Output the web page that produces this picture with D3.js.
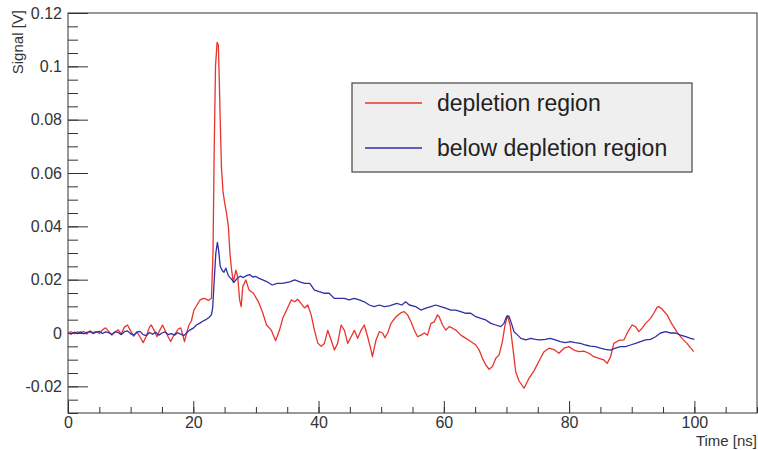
<!DOCTYPE html>
<html>
<head>
<meta charset="utf-8">
<script src="https://cdn.jsdelivr.net/npm/d3@7"></script>
<style>
  body { margin: 0; background: #fff; }
  svg { display: block; font-family: "Liberation Sans", Arial, sans-serif; }
</style>
</head>
<body>
<script>
// depletion region (red) - time [ns] and signal [V]
var redTime = [0,0.5,1,1.5,2,2.5,3,3.5,4,4.5,5,5.5,6,6.5,7,7.5,8,8.5,9,9.5,10,10.5,11,11.5,12,12.5,13,13.3,13.8,14.2,14.6,15.1,15.6,16,16.4,16.8,17.2,17.6,18,18.3,18.6,19,19.3,19.7,20.1,20.6,21.1,21.6,22,22.4,22.9,23.15,23.35,23.55,23.8,24,24.15,24.3,24.5,24.75,25,25.3,25.6,25.85,26.1,26.4,26.8,27.1,27.4,27.65,27.9,28.4,28.9,29.6,30.4,31.1,31.7,32.45,33.14,33.77,34.3,35.05,35.64,36.16,36.69,37.23,37.76,38.28,38.82,39.35,39.88,40.42,40.94,41.47,42.01,42.54,43.06,43.6,44.13,44.65,45.2,45.72,46.25,46.79,47.3,47.84,48.38,48.6,49.18,49.7,50.23,50.6,51.03,51.57,52.37,53.16,53.69,54.21,54.76,55.28,55.81,56.35,56.87,57.4,57.94,58.47,58.99,59.26,59.79,60.33,60.86,61.38,61.93,62.72,63.52,64.31,65.11,65.64,66.16,66.7,67.23,67.76,68.3,68.82,69.35,69.73,70.15,70.58,70.94,71.48,72.01,72.81,73.6,74.4,75.2,76,76.79,77.58,78.38,79.18,79.97,80.77,81.57,82.36,83.16,83.96,84.75,85.55,86.08,86.62,87.14,87.94,88.74,89.53,90.06,90.6,91.13,91.65,92.19,92.99,93.52,94.04,94.31,94.84,95.64,96.43,97.23,98.03,98.82,99.36,99.9];
var redSignal = [0,0.0005,-0.0003,0.0004,0,0.0006,-0.0004,0.0008,0.0002,0.0005,-0.0002,0.0012,0.0019,0.0006,-0.0008,0.0004,0.0012,-0.0004,0.0022,0.003,0.0008,-0.0012,0.0004,-0.0015,-0.0036,-0.0012,0.0022,0.003,0.0008,-0.0014,0.0008,0.003,0.0005,-0.0015,-0.0032,-0.0012,0,0.0015,0.0019,-0.0005,-0.0032,0.0005,0.003,0.0045,0.0086,0.0105,0.0124,0.013,0.0128,0.0122,0.013,0.03,0.07,0.1,0.109,0.108,0.095,0.08,0.062,0.053,0.049,0.045,0.04,0.03,0.024,0.019,0.0236,0.021,0.0124,0.0099,0.0174,0.0199,0.0161,0.0149,0.0117,0.0075,0.003,0.0011,-0.0029,0.0011,0.0056,0.0094,0.0124,0.0117,0.0126,0.011,0.0094,0.0105,0.0068,0.001,-0.0038,-0.005,-0.0039,0.001,-0.0026,-0.0064,-0.0038,0.003,0.001,-0.0039,-0.0014,0.001,-0.002,0.001,0.003,-0.0014,-0.0064,-0.0089,-0.0026,0.0005,0,-0.0018,0,0.0036,0.0061,0.0076,0.008,0.0068,0.0042,0.0011,-0.0014,-0.0008,0,-0.0008,0.0036,0.0042,0.0068,0.0061,0.003,0.0011,0.0024,0.0018,0.0011,-0.0008,-0.002,-0.0032,-0.0045,-0.0064,-0.0095,-0.012,-0.0136,-0.0126,-0.0095,-0.0083,-0.0032,0.0024,0.0066,0.003,-0.004,-0.0145,-0.018,-0.0207,-0.017,-0.0142,-0.0105,-0.007,-0.0057,-0.0062,-0.0076,-0.0057,-0.0051,-0.0064,-0.007,-0.0068,-0.0076,-0.0089,-0.0095,-0.0101,-0.0114,-0.0089,-0.0039,-0.0028,-0.0026,0.0011,0.003,0.0024,0.0005,0.0018,0.0035,0.0055,0.0074,0.0096,0.0099,0.009,0.0068,0.0033,0.0003,-0.002,-0.0039,-0.0055,-0.007];

// below depletion region (blue)
var blueTime = [0,0.5,1,1.5,2,2.5,3,3.5,4,4.5,5,5.5,6,6.5,7,7.5,8,8.5,9,9.5,10,10.5,11,11.5,12,12.5,13,13.5,14,14.5,15,15.5,16,16.5,17,17.5,18,18.5,19,19.5,20,20.5,21,21.5,22,22.5,22.9,23.1,23.35,23.6,23.85,24.05,24.3,24.6,24.9,25.2,25.6,26,26.5,27,27.5,28,28.5,29,29.5,30,30.5,31.1,31.8,32.6,33.4,34.2,35.4,36.2,37,37.8,38.6,39.35,40.1,40.95,41.7,42.5,43.3,44.1,44.9,45.7,46.5,47.3,48.1,48.9,49.7,50.5,51.3,52.5,53.3,53.9,54.5,55.5,56.35,57.15,57.94,58.7,59.5,60.3,61.1,61.9,62.7,63.5,64.3,65.1,65.9,66.7,67.5,68.3,69.1,69.6,70,70.4,70.8,71.2,71.8,72.3,73.1,73.9,74.6,75.4,76.2,77,77.8,78.6,79.4,80.2,81,81.8,82.6,83.4,84.2,85,85.8,86.6,87.4,88.2,89,89.8,90.6,91.4,92.2,93,93.8,94.6,95.4,96.2,97,97.8,98.6,99.4,100];
var blueSignal = [0,-0.0004,0.0003,-0.0002,0.0004,-0.0003,0.0002,0.0005,-0.0002,0.0003,0.0006,-0.0002,0.0004,0.0001,-0.0005,0.0004,0.0002,-0.0006,0.0005,0.0008,-0.0003,-0.0008,0.0003,0.0006,-0.0006,-0.001,0.0002,-0.0004,0.0003,-0.0008,0,0.0004,-0.0006,-0.0002,-0.0008,0.0001,-0.0004,-0.001,0.0002,0.0012,0.0018,0.003,0.0036,0.0044,0.005,0.0058,0.0068,0.0095,0.02,0.03,0.034,0.031,0.025,0.0235,0.0228,0.0243,0.0215,0.0205,0.019,0.0205,0.0213,0.0208,0.0215,0.0219,0.021,0.0212,0.0205,0.0199,0.0192,0.018,0.0186,0.0186,0.0192,0.0199,0.0192,0.0186,0.0186,0.0161,0.0155,0.0149,0.0149,0.013,0.013,0.013,0.0124,0.013,0.0124,0.0117,0.0105,0.0099,0.0105,0.0099,0.0102,0.0111,0.0105,0.0117,0.0105,0.0099,0.0086,0.0093,0.0099,0.0105,0.0099,0.0093,0.0086,0.0086,0.008,0.0074,0.0074,0.0061,0.0055,0.0049,0.0036,0.003,0.0024,0.0036,0.0061,0.0063,0.0036,0.0005,-0.0008,-0.002,-0.0026,-0.002,-0.0024,-0.0026,-0.0024,-0.002,-0.0026,-0.0032,-0.0036,-0.0032,-0.0036,-0.0039,-0.0045,-0.0049,-0.0051,-0.0057,-0.0061,-0.0064,-0.0057,-0.0051,-0.0051,-0.0045,-0.0039,-0.0032,-0.0026,-0.0024,-0.0014,0,0.0005,0,0,-0.0008,-0.0014,-0.002,-0.0024];

var seriesNames = ["depletion region", "below depletion region"];
var seriesColors = ["#e8342c", "#2f2fa6"];

var xMajorTicks = [0, 20, 40, 60, 80, 100];
var yMajorTicks = [-0.02, 0, 0.02, 0.04, 0.06, 0.08, 0.1, 0.12];

var W = 758, H = 450;
var margin = { left: 68, top: 13, right: 1, bottom: 37 };
var width = W - margin.left - margin.right,
    height = H - margin.top - margin.bottom;

var svg = d3.select("body").append("svg")
    .attr("width", W)
    .attr("height", H);

var g = svg.append("g")
    .attr("transform", "translate(" + margin.left + "," + margin.top + ")");

var x = d3.scaleLinear().domain([0, 110]).range([0, width]);
var y = d3.scaleLinear().domain([-0.03, 0.12]).range([height, 0]);

// minor ticks first
g.append("g")
    .attr("transform", "translate(0," + height + ")")
    .call(d3.axisBottom(x).tickValues(d3.range(0, 111, 5)).tickSize(-6).tickSizeOuter(0).tickFormat(""))
    .call(a => a.select(".domain").remove());
g.append("g")
    .call(d3.axisLeft(y).tickValues(d3.range(-0.03, 0.1201, 0.005)).tickSize(-10).tickSizeOuter(0).tickFormat(""))
    .call(a => a.select(".domain").remove());

// major ticks with labels
var xAxis = g.append("g")
    .attr("transform", "translate(0," + height + ")")
    .call(d3.axisBottom(x).tickValues(xMajorTicks).tickSize(-12).tickSizeOuter(0).tickPadding(4).tickFormat(d3.format("d")));
xAxis.select(".domain").remove();

var yAxis = g.append("g")
    .call(d3.axisLeft(y).tickValues(yMajorTicks).tickSize(-20).tickSizeOuter(0).tickPadding(6)
        .tickFormat(d => d === 0 ? "0" : String(+d.toFixed(2))));
yAxis.select(".domain").remove();

g.selectAll(".tick line").attr("stroke", "#333");
g.selectAll(".tick text").attr("font-size", 16).attr("fill", "#333")
    .attr("font-family", "Liberation Sans, Arial, sans-serif");

// frame
g.append("rect")
    .attr("x", 0).attr("y", 0)
    .attr("width", width).attr("height", height)
    .attr("fill", "none").attr("stroke", "#333").attr("stroke-width", 1);

// curves
var line = d3.line()
    .x(d => x(d[0]))
    .y(d => y(d[1]));

var redData = redTime.map((t, i) => [t, redSignal[i]]);
var blueData = blueTime.map((t, i) => [t, blueSignal[i]]);

g.append("path")
    .datum(redData)
    .attr("fill", "none")
    .attr("stroke", seriesColors[0])
    .attr("stroke-width", 1.3)
    .attr("stroke-linejoin", "round")
    .attr("d", line);

g.append("path")
    .datum(blueData)
    .attr("fill", "none")
    .attr("stroke", seriesColors[1])
    .attr("stroke-width", 1.3)
    .attr("stroke-linejoin", "round")
    .attr("d", line);

// axis titles
svg.append("text")
    .attr("transform", "translate(23,10) rotate(-90)")
    .attr("text-anchor", "end")
    .attr("font-size", 15)
    .attr("fill", "#333")
    .text("Signal [V]");

svg.append("text")
    .attr("x", 757)
    .attr("y", 446)
    .attr("text-anchor", "end")
    .attr("font-size", 15)
    .attr("fill", "#333")
    .text("Time [ns]");

// legend
var legend = svg.append("g").attr("transform", "translate(352,83)");
legend.append("rect")
    .attr("width", 340).attr("height", 89)
    .attr("fill", "#efefef")
    .attr("stroke", "#444").attr("stroke-width", 1.2);

seriesNames.forEach(function(name, i) {
    var yy = 20 + i * 45;
    legend.append("line")
        .attr("x1", 13).attr("x2", 70)
        .attr("y1", yy).attr("y2", yy)
        .attr("stroke", seriesColors[i]).attr("stroke-width", 1.3);
    legend.append("text")
        .attr("x", 85).attr("y", yy + 8)
        .attr("font-size", 23)
        .attr("fill", "#222")
        .text(name);
});
</script>
</body>
</html>
